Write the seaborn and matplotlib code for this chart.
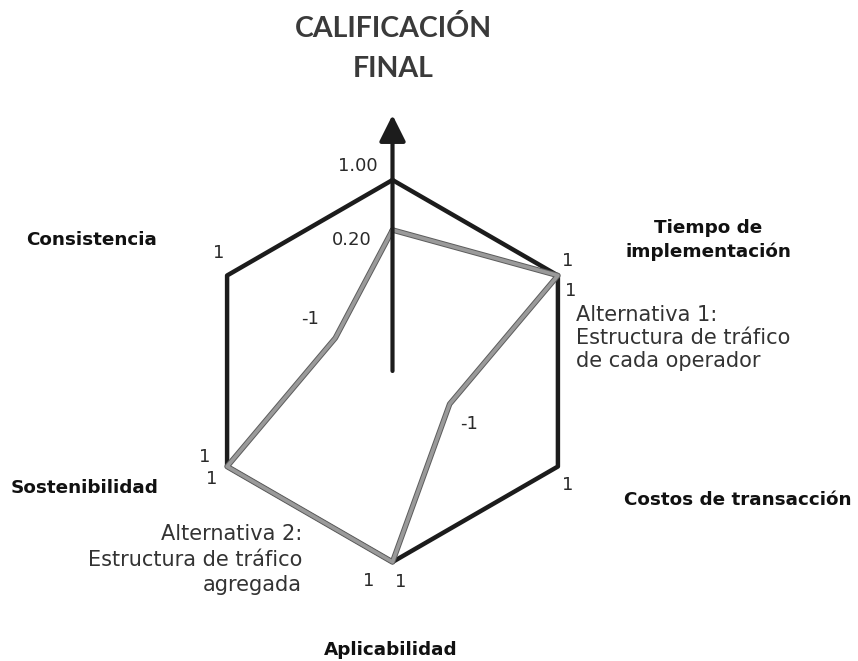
import numpy as np
import matplotlib
matplotlib.use("Agg")
import matplotlib.pyplot as plt
import matplotlib.patheffects as pe
import seaborn as sns

# criteria of the diagram, counter-clockwise from the top axis (degrees)
criteria = ["Calificación final", "Tiempo de implementación", "Costos de transacción",
            "Aplicabilidad", "Sostenibilidad", "Consistencia"]
angles_deg = [90, 30, -30, -90, -150, 150]

alt1_values = [1.00, 1, 1, 1, 1, 1]
alt2_values = [0.20, 1, -1, 1, 1, -1]
alt1_labels = ["1.00", "1", "1", "1", "1", "1"]
alt2_labels = ["0.20", "1", "-1", "1", "1", "-1"]

title_lines = ["CALIFICACIÓN", "FINAL"]
axis_titles = [["Tiempo de", "implementación"], ["Costos de transacción"], ["Aplicabilidad"],
               ["Sostenibilidad"], ["Consistencia"]]
alt1_text = ["Alternativa 1:", "Estructura de tráfico", "de cada operador"]
alt2_text = ["Alternativa 2:", "Estructura de tráfico", "agregada"]

W, H = 858, 661
BLACK = "#1c1c1c"
GRAY = "#9a9a9a"
TEXT = "#2a2a2a"


def px(x, y):
    return x / W, 1 - y / H


sns.set_theme(style="white")
plt.rcParams["font.family"] = ["DejaVu Sans"]

fig = plt.figure(figsize=(W / 100, H / 100), dpi=100)
fig.patch.set_facecolor("white")

# polar axes, centre of the diagram at (392.5, 371) px, 62.5 px per unit
rmin, rmax = -2.056, 2.2
R = (rmax - rmin) * 62.5
cx, cy = 392.5, 371
ax = fig.add_axes([(cx - R) / W, (H - cy - R) / H, 2 * R / W, 2 * R / H], projection="polar")
ax.set_ylim(rmin, rmax)
ax.set_axis_off()

theta = np.deg2rad(angles_deg)
theta_closed = np.append(theta, theta[0])

sns.lineplot(x=theta_closed, y=np.append(alt1_values, alt1_values[0]), sort=False,
             estimator=None, ax=ax, color=BLACK, linewidth=3.2, legend=False)
sns.lineplot(x=theta_closed, y=np.append(alt2_values, alt2_values[0]), sort=False,
             estimator=None, ax=ax, color=GRAY, linewidth=2.6, legend=False,
             path_effects=[pe.Stroke(linewidth=4.0, foreground="#5c5c5c"), pe.Normal()])

# vertical arrow for the final score
ax.annotate("", xy=(np.pi / 2, 2.04), xytext=(np.pi / 2, rmin),
            arrowprops=dict(arrowstyle="-|>", color=BLACK, lw=3, mutation_scale=40,
                            shrinkA=0, shrinkB=0), annotation_clip=False)

# value labels next to each vertex (offsets in pixels)
alt1_offsets = [(-15, 14), (10, 15), (10, -19), (-24, -19), (-22, 9), (-8, 23)]
alt2_offsets = [(-21, -10), (13, -15), (19, -20), (8, -20), (-15, -13), (-25, 19)]
for vals, labels, offs in [(alt1_values, alt1_labels, alt1_offsets),
                           (alt2_values, alt2_labels, alt2_offsets)]:
    for i, (t, v, lab, off) in enumerate(zip(theta, vals, labels, offs)):
        ax.annotate(lab, xy=(t, v), xytext=off, textcoords="offset pixels",
                    ha="right" if i == 0 else "center", va="center",
                    fontsize=13, color=TEXT, annotation_clip=False)

# title
for line, y in zip(title_lines, [37, 77]):
    fig.text(*px(393, y), line, ha="center", va="baseline", fontsize=20.5,
             fontweight="bold", family=["Lato", "DejaVu Sans"], color="#3a3a3a")

# criteria names
axis_pos = [[(708, 233), (708, 257)], [(738, 505)], [(391, 655)], [(85, 493)], [(92, 245)]]
for lines, pos in zip(axis_titles, axis_pos):
    for line, (x, y) in zip(lines, pos):
        fig.text(*px(x, y), line, ha="center", va="baseline", fontsize=13.2,
                 fontweight="bold", color="#111111")

# alternative descriptions
for line, y in zip(alt1_text, [321, 344, 367]):
    fig.text(*px(576, y), line, ha="left", va="baseline", fontsize=15, color="#333333")
for line, y in zip(alt2_text, [540, 566, 591]):
    fig.text(*px(302, y), line, ha="right", va="baseline", fontsize=15, color="#333333")

fig.savefig("out.png", dpi=100, facecolor="white")
